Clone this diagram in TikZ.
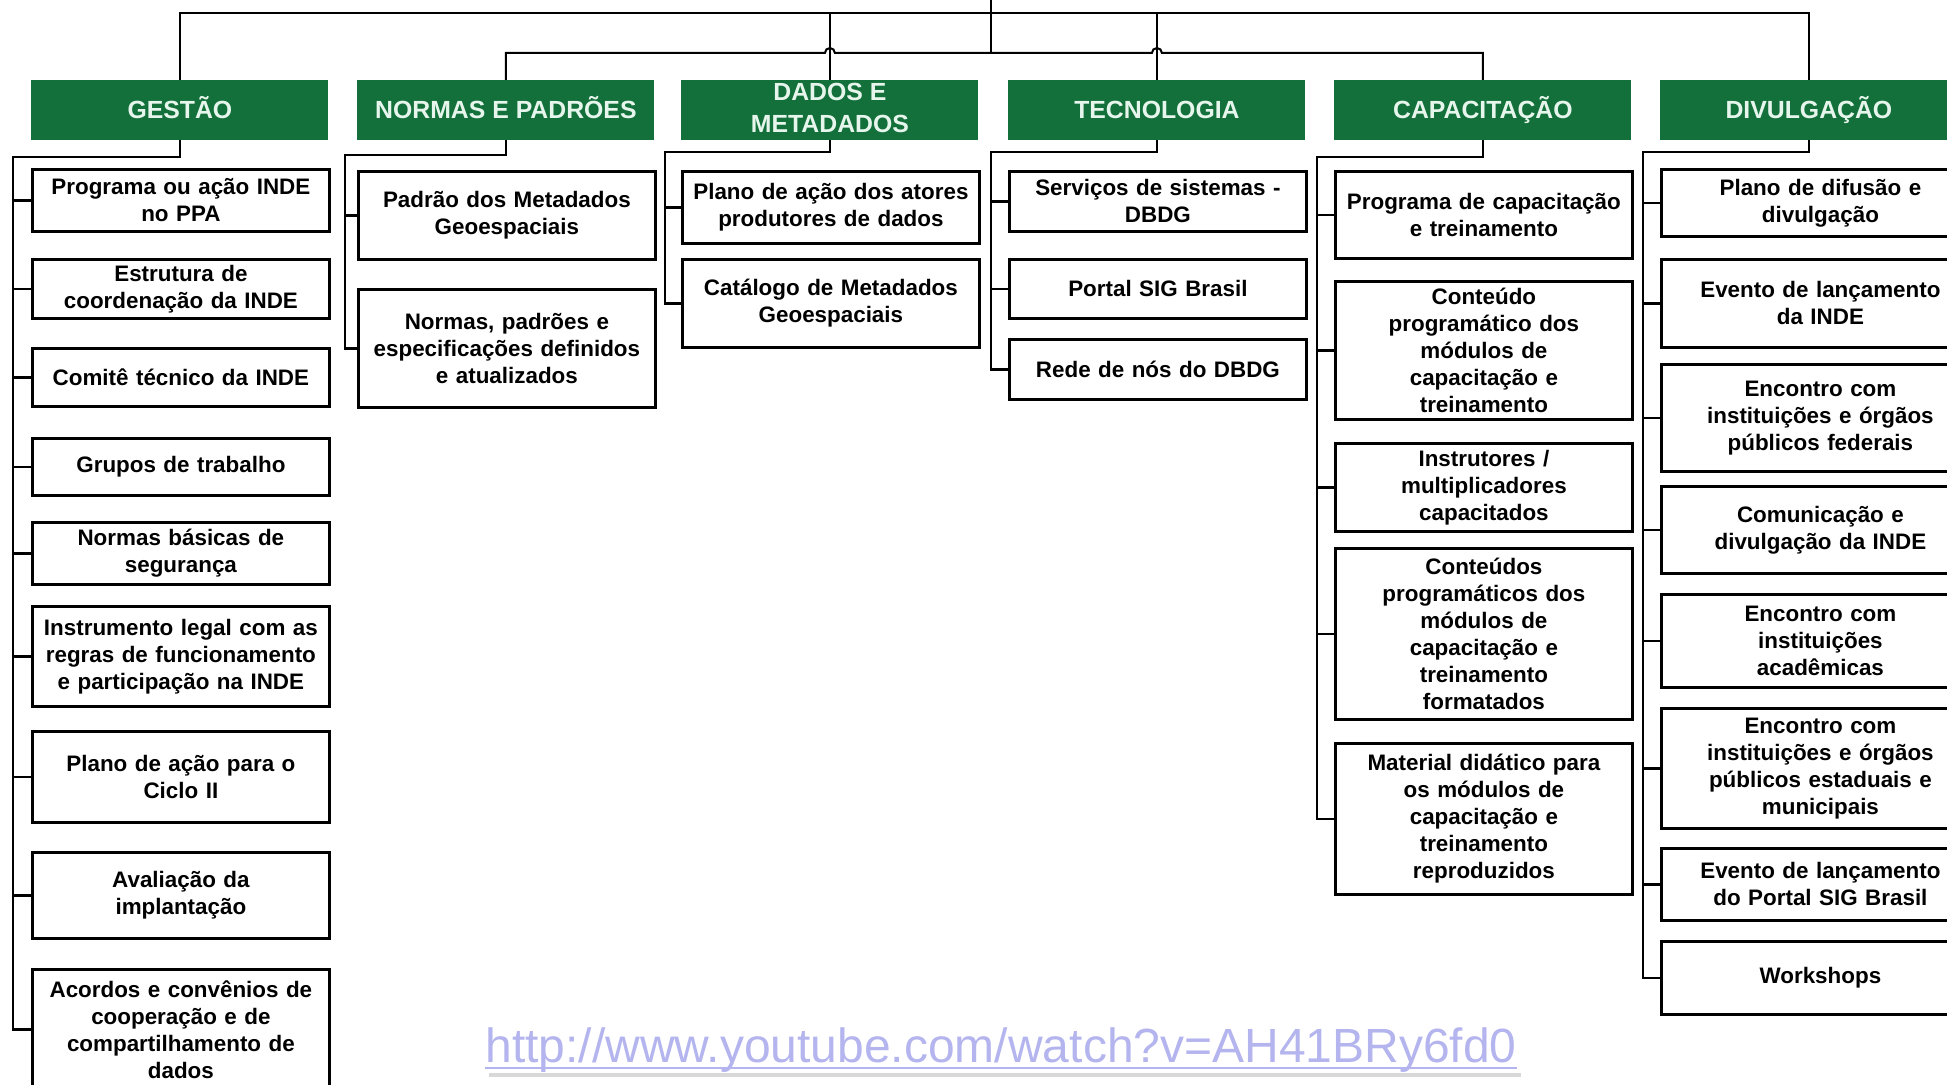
\documentclass[tikz,border=0pt]{standalone}
\usepackage{fontspec}
\setmainfont{Liberation Sans}
\usepackage{tikz}
\usetikzlibrary{calc}
\definecolor{leaf}{HTML}{13703A}
\definecolor{mint}{HTML}{E6F6EC}
\definecolor{lilac}{HTML}{B4B4EE}
\tikzset{headbox/.style={fill=leaf,text=mint,font=\bfseries\fontsize{12.4}{16}\selectfont,minimum width=148.5pt,minimum height=29.75pt,inner sep=0pt,align=center,anchor=north west,execute at begin node=\vphantom{ÃÇ}}, itembox/.style={draw=black,line width=1.4pt,fill=white,font=\bfseries\fontsize{11.2}{13.5}\selectfont,text width=146pt,minimum width=148.5pt,inner sep=0pt,align=center,anchor=north west,minimum height=#1}, itembox/.default=30pt, widebox/.style={itembox=#1,text width=156pt,minimum width=159pt}, branch/.style={line width=1.3pt}, trunk/.style={line width=1pt}, linktext/.style={font=\fontsize{24}{28}\selectfont,inner sep=0pt,anchor=base}}

\begin{document}
\begin{tikzpicture}[x=.5pt,y=-.5pt]
\useasboundingbox (0,0) rectangle (1947,1085);
\clip (0,0) rectangle (1947,1085);
\node[headbox] (gestao) at (31,80) {GESTÃO};
\node[headbox] (normas) at (357,80) {NORMAS E PADRÕES};
\node[headbox] (dados) at (681,80) {DADOS E\\METADADOS};
\node[headbox] (tecno) at (1008,80) {TECNOLOGIA};
\node[headbox] (capac) at (1334,80) {CAPACITAÇÃO};
\node[headbox] (divulg) at (1660,80) {DIVULGAÇÃO};
\coordinate (rail) at (0,13); \coordinate (rail2) at (0,53); \coordinate (root) at (991,-10);
\draw[trunk] (gestao.north) |- (rail -| divulg.north) -- (divulg.north);
\draw[trunk] (dados.north) -- (dados.north |- rail); \draw[trunk] (tecno.north) -- (tecno.north |- rail);
\draw[trunk] (root) -- (root |- rail2);
\draw[trunk] (normas.north) |- ($(rail2 -| dados.north)+(-5,0)$) arc[start angle=180,end angle=0,radius=2.5pt] -- ($(rail2 -| tecno.north)+(-5,0)$) arc[start angle=180,end angle=0,radius=2.5pt] -- (rail2 -| capac.north) -- (capac.north);

\node[itembox=31pt] (g1) at (31,168) {Programa ou ação INDE\\no PPA};
\node[itembox=29.5pt] (g2) at (31,258) {Estrutura de\\coordenação da INDE};
\node[itembox=29pt] (g3) at (31,347) {Comitê técnico da INDE};
\node[itembox=28.5pt] (g4) at (31,437) {Grupos de trabalho};
\node[itembox=31pt] (g5) at (31,521) {Normas básicas de\\segurança};
\node[itembox=50pt] (g6) at (31,605) {Instrumento legal com as\\regras de funcionamento\\e participação na INDE};
\node[itembox=45.5pt] (g7) at (31,730) {Plano de ação para o\\Ciclo II};
\node[itembox=43pt] (g8) at (31,851) {Avaliação da\\implantação};
\node[itembox=60pt] (g9) at (31,968) {Acordos e convênios de\\cooperação e de\\compartilhamento de\\dados};

\node[itembox=44pt] (n1) at (357,170) {Padrão dos Metadados\\Geoespaciais};
\node[itembox=59pt] (n2) at (357,288) {Normas, padrões e\\especificações definidos\\e atualizados};

\node[itembox=36pt] (d1) at (681,170) {Plano de ação dos atores\\produtores de dados};
\node[itembox=44pt] (d2) at (681,258) {Catálogo de Metadados\\Geoespaciais};

\node[itembox=30pt] (t1) at (1008,170) {Serviços de sistemas -\\DBDG};
\node[itembox=29.5pt] (t2) at (1008,258) {Portal SIG Brasil};
\node[itembox=30pt] (t3) at (1008,338) {Rede de nós do DBDG};

\node[itembox=43.5pt] (c1) at (1334,170) {Programa de capacitação\\e treinamento};
\node[itembox=69pt] (c2) at (1334,280) {Conteúdo\\programático dos\\módulos de\\capacitação e\\treinamento};
\node[itembox=44pt] (c3) at (1334,442) {Instrutores /\\multiplicadores\\capacitados};
\node[itembox=85.5pt] (c4) at (1334,547) {Conteúdos\\programáticos dos\\módulos de\\capacitação e\\treinamento\\formatados};
\node[itembox=75.5pt] (c5) at (1334,742) {Material didático para\\os módulos de\\capacitação e\\treinamento\\reproduzidos};

\node[widebox=33.5pt] (v1) at (1660,168) {Plano de difusão e\\divulgação};
\node[widebox=44pt] (v2) at (1660,258) {Evento de lançamento\\da INDE};
\node[widebox=53.5pt] (v3) at (1660,363) {Encontro com\\instituições e órgãos\\públicos federais};
\node[widebox=43.5pt] (v4) at (1660,485) {Comunicação e\\divulgação da INDE};
\node[widebox=46.5pt] (v5) at (1660,593) {Encontro com\\instituições\\acadêmicas};
\node[widebox=60pt] (v6) at (1660,707) {Encontro com\\instituições e órgãos\\públicos estaduais e\\municipais};
\node[widebox=36pt] (v7) at (1660,847) {Evento de lançamento\\do Portal SIG Brasil};
\node[widebox=36.5pt] (v8) at (1660,940) {Workshops};

\coordinate (gs) at (13,157); \coordinate (ns) at (345,155); \coordinate (ds) at (665,152);
\coordinate (ts) at (991,152); \coordinate (cs) at (1317,157); \coordinate (vs) at (1643,152);
\draw[branch] (gestao.south) |- (gs) |- (g9.west);
\foreach \i in {1,...,8} \draw[branch] (gs |- g\i.west) -- (g\i.west);
\draw[branch] (normas.south) |- (ns) |- (n2.west); \draw[branch] (ns |- n1.west) -- (n1.west);
\draw[branch] (dados.south) |- (ds) |- (d2.west); \draw[branch] (ds |- d1.west) -- (d1.west);
\draw[branch] (tecno.south) |- (ts) |- (t3.west);
\foreach \i in {1,2} \draw[branch] (ts |- t\i.west) -- (t\i.west);
\draw[branch] (capac.south) |- (cs) |- (c5.west);
\foreach \i in {1,...,4} \draw[branch] (cs |- c\i.west) -- (c\i.west);
\draw[branch] (divulg.south) |- (vs) |- (v8.west);
\foreach \i in {1,...,7} \draw[branch] (vs |- v\i.west) -- (v\i.west);

\node[linktext,text=lilac] (url) at (1001,1062) {http://www.youtube.com/watch?v=AH41BRy6fd0};
\draw[black!30,line width=2pt,opacity=.5] ($(url.base west)+(4,13)$) -- ($(url.base east)+(4,13)$);
\draw[lilac,line width=1.2pt] ($(url.base west)+(0,6)$) -- ($(url.base east)+(0,6)$);
\end{tikzpicture}
\end{document}
